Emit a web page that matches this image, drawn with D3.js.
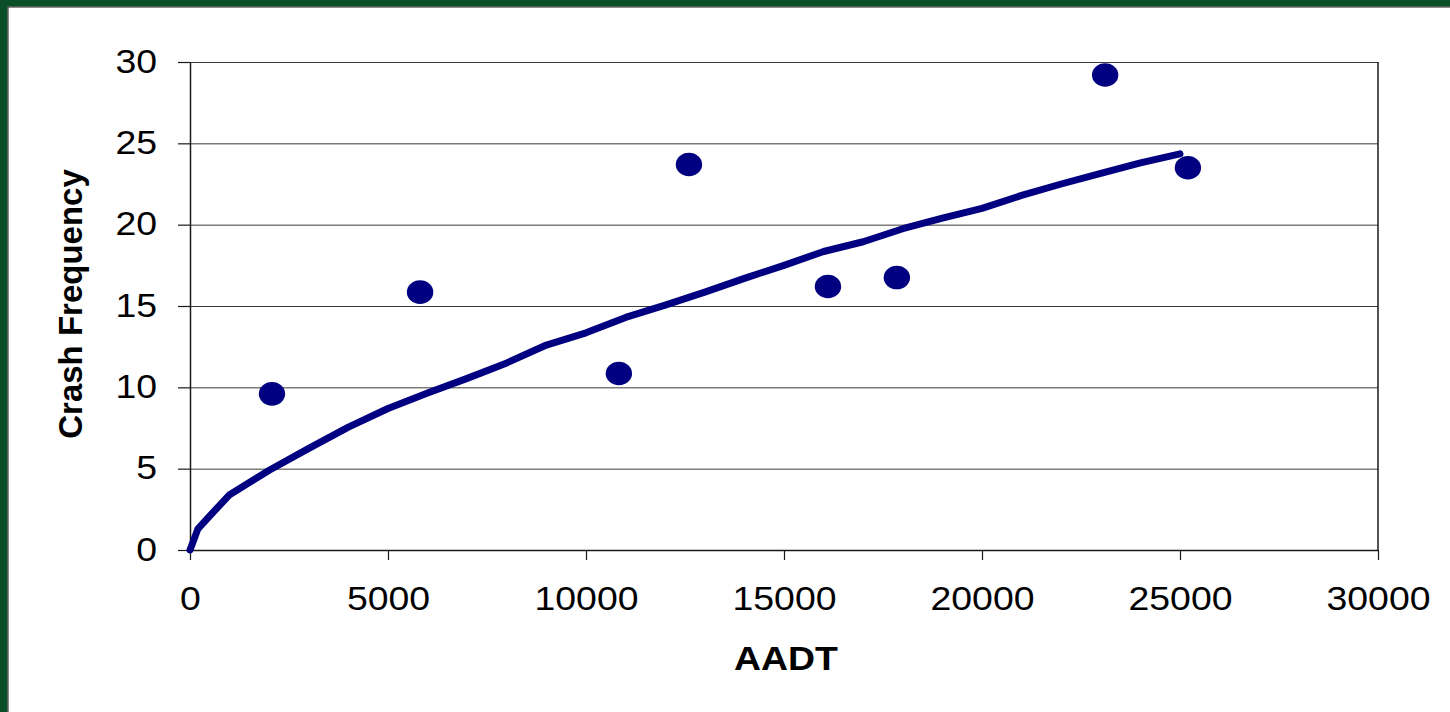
<!DOCTYPE html>
<html><head><meta charset="utf-8">
<script src="https://cdn.jsdelivr.net/npm/d3@7"></script>
<style>html,body{margin:0;padding:0;background:#fff;overflow:hidden}</style>
</head><body>
<svg id="c" width="1450" height="712"></svg>
<script>
// Observed data points (AADT, crash frequency)
const obsAADT = [2070, 5810, 10830, 12600, 16110, 17850, 23110, 25200];
const obsCrash = [9.6, 15.85, 10.85, 23.7, 16.2, 16.75, 29.2, 23.5];
// Fitted curve points
const fitAADT = [0, 200, 500, 1000, 2000, 3000, 4000, 5000, 6000, 7000, 8000, 9000, 10000, 11000, 12000, 13000, 14000, 15000, 16000, 17000, 18000, 19000, 20000, 21000, 22000, 23000, 24000, 25000];
const fitCrash = [0, 1.3, 2.1, 3.4, 4.9, 6.25, 7.55, 8.7, 9.65, 10.55, 11.5, 12.6, 13.35, 14.3, 15.05, 15.85, 16.7, 17.5, 18.35, 18.95, 19.75, 20.4, 21.0, 21.8, 22.5, 23.15, 23.8, 24.35];
const xTicks = [0, 5000, 10000, 15000, 20000, 25000, 30000];
const yTicks = [0, 5, 10, 15, 20, 25, 30];
const xTitle = "AADT";
const yTitle = "Crash Frequency";

const svg = d3.select("#c");
// green frame
svg.append("rect").attr("x",0).attr("y",0).attr("width",1450).attr("height",6.5).attr("fill","#0b4f29");
svg.append("rect").attr("x",0).attr("y",0).attr("width",7.5).attr("height",712).attr("fill","#0b4f29");
svg.append("line").attr("x1",7.5).attr("x2",1450).attr("y1",7).attr("y2",7).attr("stroke","#1c1c1c").attr("stroke-width",1);
svg.append("line").attr("x1",8).attr("x2",8).attr("y1",7).attr("y2",712).attr("stroke","#1c1c1c").attr("stroke-width",1);

const x = d3.scaleLinear().domain([0,30000]).range([190,1378]);
const y = d3.scaleLinear().domain([0,30]).range([550,62]);

// gridlines
svg.append("g").selectAll("line").data(yTicks.filter(d=>d>0)).join("line")
  .attr("x1",190).attr("x2",1378).attr("y1",d=>y(d)+0.5).attr("y2",d=>y(d)+0.5)
  .attr("stroke","#3a3a3a").attr("stroke-width",1);
// right border
svg.append("line").attr("x1",1378).attr("x2",1378).attr("y1",62).attr("y2",550).attr("stroke","#1a1a1a").attr("stroke-width",1.5);

const font = "'Liberation Sans', Arial, sans-serif";
// axes
const xAxis = svg.append("g").attr("transform","translate(0,550)")
  .call(d3.axisBottom(x).tickValues(xTicks).tickFormat(d3.format("d")).tickSize(10).tickSizeOuter(0));
const yAxis = svg.append("g").attr("transform","translate(190,0)")
  .call(d3.axisLeft(y).tickValues(yTicks).tickFormat(d3.format("d")).tickSize(12).tickSizeOuter(0));
[xAxis,yAxis].forEach(g=>{
  g.select(".domain").attr("stroke","#1a1a1a").attr("stroke-width",1.5);
  g.selectAll(".tick line").attr("stroke","#1a1a1a").attr("stroke-width",1.2);
  g.selectAll("text").attr("font-family",font).attr("font-size",34).attr("fill","#000");
});
xAxis.selectAll("text").attr("y",0).attr("dy",0).attr("transform","translate(0,60) scale(1.1,1)");
yAxis.selectAll("text").attr("x",0).attr("dy",0).attr("transform","translate(-33,10) scale(1.1,1)");

// fitted curve
svg.append("path")
  .datum(fitAADT.map((a,i)=>[a,fitCrash[i]]))
  .attr("d",d3.line().x(d=>x(d[0])).y(d=>y(d[1])))
  .attr("fill","none").attr("stroke","#000080").attr("stroke-width",7)
  .attr("stroke-linejoin","round").attr("stroke-linecap","round");

// observed points
svg.append("g").selectAll("ellipse").data(obsAADT.map((a,i)=>[a,obsCrash[i]])).join("ellipse")
  .attr("cx",d=>x(d[0])).attr("cy",d=>y(d[1])).attr("rx",13.2).attr("ry",11.8).attr("fill","#000080");

// titles
svg.append("text").attr("transform","translate(786,670) scale(1.1,1)").attr("text-anchor","middle")
  .attr("font-family",font).attr("font-weight","bold").attr("font-size",34).text(xTitle);
svg.append("text").attr("transform","translate(82,304) rotate(-90)").attr("text-anchor","middle")
  .attr("font-family",font).attr("font-weight","bold").attr("font-size",33).text(yTitle);
</script>
</body></html>
